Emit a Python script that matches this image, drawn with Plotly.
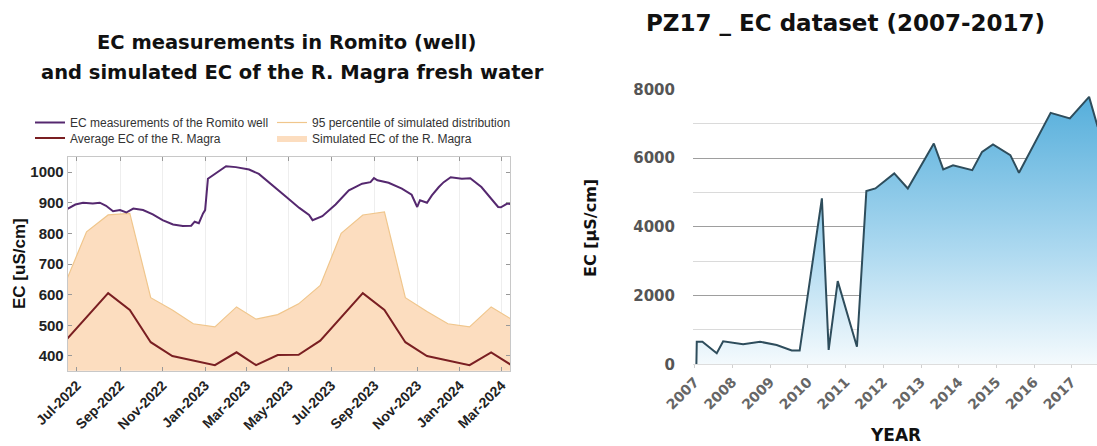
import plotly.graph_objects as go

W, H = 1097, 446

# left panel: Romito well vs simulated EC of the R. Magra
ROMITO_DATES = [
    "2022-06-16", "2022-06-29", "2022-07-10", "2022-07-24", "2022-08-03", "2022-08-12",
    "2022-08-22", "2022-09-01", "2022-09-10", "2022-09-20", "2022-10-04", "2022-10-18",
    "2022-11-01", "2022-11-16", "2022-11-30", "2022-12-12", "2022-12-17", "2022-12-23",
    "2022-12-29", "2023-01-01", "2023-01-05", "2023-01-12", "2023-01-22", "2023-01-31",
    "2023-02-14", "2023-03-05", "2023-03-19", "2023-04-07", "2023-04-27", "2023-05-16",
    "2023-05-30", "2023-06-04", "2023-06-18", "2023-07-07", "2023-07-26", "2023-07-31",
    "2023-08-14", "2023-08-26", "2023-08-31", "2023-09-05", "2023-09-21", "2023-10-10",
    "2023-10-24", "2023-11-01", "2023-11-05", "2023-11-15", "2023-11-22", "2023-12-02",
    "2023-12-09", "2023-12-19", "2024-01-04", "2024-01-16", "2024-02-01", "2024-02-25",
    "2024-02-29", "2024-03-09", "2024-03-14",
]
ROMITO_EC = [
    878, 894, 900, 897, 900, 890,
    872, 876, 868, 881, 876, 862,
    843, 829, 824, 825, 838, 833,
    865, 876, 978, 989, 1005, 1019,
    1016, 1008, 994, 956, 919, 883,
    860, 843, 856, 894, 940, 946,
    962, 967, 980, 973, 965, 946,
    926, 886, 908, 900, 924, 951,
    967, 983, 978, 980, 951, 886,
    885, 897, 895,
]

SIM_DATES = [
    "2022-06-15", "2022-07-15", "2022-08-15", "2022-09-15", "2022-10-15", "2022-11-15",
    "2022-12-15", "2023-01-15", "2023-02-15", "2023-03-15", "2023-04-15", "2023-05-15",
    "2023-06-15", "2023-07-15", "2023-08-15", "2023-09-15", "2023-10-15", "2023-11-15",
    "2023-12-15", "2024-01-15", "2024-02-15", "2024-03-15",
]
SIM_P95 = [640, 805, 860, 865, 590, 550, 505, 495, 560, 520, 535, 570,
           630, 800, 860, 870, 590, 545, 505, 495, 560, 520]
SIM_AVG = [450, 528, 605, 550, 445, 400, 385, 370, 412, 370, 403, 404,
           450, 528, 605, 550, 445, 400, 385, 370, 412, 370]

# right panel: PZ17 EC dataset
PZ17_YEAR = [2007.04, 2007.05, 2007.2, 2007.58, 2007.75, 2008.28, 2008.73, 2009.17,
             2009.57, 2009.78, 2010.37, 2010.55, 2010.79, 2011.3, 2011.55, 2011.79,
             2012.29, 2012.65, 2013.34, 2013.59, 2013.85, 2014.36, 2014.62, 2014.91,
             2015.37, 2015.6, 2016.44, 2016.95, 2017.46, 2017.69]
PZ17_EC = [0, 657, 657, 320, 670, 580, 657, 560,
           400, 400, 4826, 420, 2420, 512, 5038, 5116,
           5552, 5116, 6424, 5669, 5790, 5648, 6180, 6395,
           6085, 5570, 7314, 7151, 7779, 6907]

ARIAL = "Liberation Sans"
HEAVY = "DejaVu Sans"


def px(x):
    return x / W


def py(y):
    return 1 - y / H


fig = go.Figure()

# simulated band (drawn to the bottom of the axis)
fig.add_trace(go.Scatter(
    x=SIM_DATES, y=SIM_P95, mode="lines", fill="tozeroy",
    fillcolor="#FCDDBF", line=dict(width=0, color="#FCDDBF"),
    name="Simulated EC of the R. Magra", legend="legend4",
    xaxis="x", yaxis="y"))
fig.add_trace(go.Scatter(
    x=SIM_DATES, y=SIM_P95, mode="lines", line=dict(color="#F0C68C", width=1.2),
    name="95 percentile of simulated distribution", legend="legend3",
    xaxis="x", yaxis="y"))
fig.add_trace(go.Scatter(
    x=SIM_DATES, y=SIM_AVG, mode="lines", line=dict(color="#7A1F22", width=2),
    name="Average EC of the R. Magra", legend="legend2",
    xaxis="x", yaxis="y"))
fig.add_trace(go.Scatter(
    x=ROMITO_DATES, y=ROMITO_EC, mode="lines", line=dict(color="#55286F", width=2),
    name="EC measurements of the Romito well", legend="legend",
    xaxis="x", yaxis="y"))

# PZ17 area
fig.add_trace(go.Scatter(
    x=PZ17_YEAR, y=PZ17_EC, mode="lines", fill="tozeroy",
    fillgradient=dict(type="vertical",
                      colorscale=[[0, "#F4FAFD"], [0.45, "#A9D7EF"], [1, "#55AEDB"]]),
    line=dict(color="#2E4D5C", width=2), showlegend=False,
    xaxis="x2", yaxis="y2"))

tick_left = dict(family=ARIAL, size=15, color="#222", weight="bold")
leg_font = dict(family=ARIAL, size=12, color="#333")


def leg(x, y):
    return dict(orientation="h", x=px(x), y=py(y), xanchor="left", yanchor="middle",
                font=leg_font, bgcolor="rgba(0,0,0,0)", itemwidth=30)


fig.update_layout(
    width=W, height=H, margin=dict(l=0, r=0, t=0, b=0),
    paper_bgcolor="white", plot_bgcolor="white",
    showlegend=True,
    xaxis=dict(
        domain=[px(67.7), px(510)], range=["2022-06-18", "2024-03-13"],
        type="date", tick0="2022-07-01", dtick="M2", tickformat="%b-%Y",
        tickangle=-45, tickfont=dict(family=ARIAL, size=14, color="#222", weight="bold"),
        ticks="inside", ticklen=4,
        tickcolor="#999", showline=True, linecolor="#C8C8C8", mirror="ticks",
        showgrid=True, gridcolor="#EEEEEE", zeroline=False, automargin=False),
    yaxis=dict(
        domain=[py(370.7), py(156.7)], range=[352, 1050],
        tickvals=[400, 500, 600, 700, 800, 900, 1000],
        tickfont=tick_left, ticks="inside", ticklen=4, tickcolor="#999",
        showline=True, linecolor="#C8C8C8", mirror="ticks",
        showgrid=False, zeroline=False, automargin=False),
    xaxis2=dict(
        domain=[px(693), 1.0], range=[2006.95, 2017.67], dtick=1, tick0=2007,
        tickangle=-45, tickfont=dict(family=HEAVY, size=14, color="#666", weight="bold"),
        ticks="outside", ticklen=3, tickcolor="#D0D0D0",
        showline=True, linecolor="#DDDDDD", showgrid=False, zeroline=False,
        anchor="y2", automargin=False),
    yaxis2=dict(
        domain=[py(364.3), py(89.3)], range=[0, 8000], dtick=2000,
        tickfont=dict(family=HEAVY, size=15, color="#555", weight="bold"),
        showgrid=True, gridcolor="#9E9E9E", gridwidth=1.2,
        minor=dict(dtick=1000, showgrid=True, gridcolor="#DADADA", gridwidth=1),
        zeroline=False, showline=False, ticks="", anchor="x2", automargin=False,
        ticklabelstandoff=17),
    legend=leg(30, 122.5),
    legend2=leg(30, 138),
    legend3=leg(272, 122.5),
    legend4=leg(272, 138),
)

annots = [
    dict(text="EC measurements in Romito (well)", x=px(286), y=py(42),
         font=dict(family=HEAVY, size=19.5, color="#111", weight="bold")),
    dict(text="and simulated EC of the R. Magra fresh water", x=px(292), y=py(72),
         font=dict(family=HEAVY, size=19.5, color="#111", weight="bold")),
    dict(text="EC [uS/cm]", x=px(19), y=py(264), textangle=-90,
         font=dict(family=ARIAL, size=17, color="#111", weight="bold")),
    dict(text="PZ17 _ EC dataset (2007-2017)", x=px(845), y=py(23),
         font=dict(family=HEAVY, size=23, color="#111", weight="bold")),
    dict(text="EC [µS/cm]", x=px(590), y=py(228), textangle=-90,
         font=dict(family=HEAVY, size=16, color="#111", weight="bold")),
    dict(text="YEAR", x=px(895), y=py(435),
         font=dict(family=HEAVY, size=17, color="#111", weight="bold")),
]
for a in annots:
    fig.add_annotation(xref="paper", yref="paper", showarrow=False,
                       xanchor="center", yanchor="middle", **a)

fig.write_html("out.html", config={"displayModeBar": False},
               post_script="document.body.style.margin='0px';"
                           "document.body.style.overflow='hidden';")
